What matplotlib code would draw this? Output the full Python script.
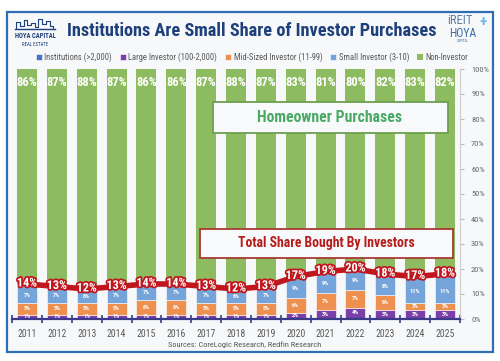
import matplotlib
matplotlib.use("Agg")
import matplotlib.pyplot as plt
import matplotlib.patheffects as pe
from matplotlib import font_manager
from matplotlib.patches import Rectangle
from matplotlib.lines import Line2D
import numpy as np

years = [str(y) for y in range(2011, 2026)]
institutions = [0.5] * 15
large = [1, 1, 1, 1, 1, 1, 1, 1, 1, 2, 3, 4, 3, 3, 3]
mid_sized = [5, 5, 5, 5, 6, 6, 5, 5, 5, 6, 7, 7, 6, 3, 3]
small = [7, 7, 6, 7, 7, 7, 7, 6, 7, 9, 9, 9, 8, 11, 11]
total_investor = [14, 13, 12, 13, 14, 14, 13, 12, 13, 17, 19, 20, 18, 17, 18]
non_investor = [86, 87, 88, 87, 86, 86, 87, 88, 87, 83, 81, 80, 82, 83, 82]
yticks = list(range(0, 101, 10))

C_INST = "#4472c4"
C_LARGE = "#7a3fa8"
C_MID = "#ee904f"
C_SMALL = "#74a4d9"
C_GREEN = "#8dbb5f"
C_RED = "#c0161d"
NAVY = "#1d3f7a"
GREY = "#5a5a5a"

available = {f.name for f in font_manager.fontManager.ttflist}
COND = next((f for f in ["Liberation Sans Narrow", "Roboto Condensed", "Open Sans Condensed", "Lato"]
             if f in available), "DejaVu Sans")
plt.rcParams["font.family"] = [COND, "DejaVu Sans"]

W, H = 500, 361
fig = plt.figure(figsize=(W / 100, H / 100), dpi=100)
fig.patch.set_facecolor("white")


def px(x, y):
    return x / W, 1 - y / H


def fit(t, width_px):
    r = fig.canvas.get_renderer()
    w = t.get_window_extent(r).width
    t.set_fontsize(t.get_fontsize() * width_px / w)


# frame
x0, y0 = px(7, 352)
fig.add_artist(Rectangle((x0, y0), 486 / W, 340 / H, transform=fig.transFigure,
                         facecolor="#f7f8fa", edgecolor="#2f6db5", linewidth=1.6, zorder=0))

ax = fig.add_axes([12.07 / W, 42 / H, 447.9 / W, 250 / H])
ax.set_facecolor("none")
x = np.arange(len(years))
bw = 0.67

b0 = np.array(institutions, dtype=float)
b1 = b0 + np.array(large)
b2 = b1 + np.array(mid_sized)
kw = dict(width=bw, edgecolor="white", linewidth=0.4)
h_inst = ax.bar(x, institutions, color=C_INST, **kw)
h_large = ax.bar(x, large, bottom=b0, color=C_LARGE, **kw)
h_mid = ax.bar(x, mid_sized, bottom=b1, color=C_MID, **kw)
h_small = ax.bar(x, small, bottom=b2, color=C_SMALL, **kw)
h_green = ax.bar(x, non_investor, bottom=total_investor, color=C_GREEN, width=bw, linewidth=0)

for i in range(len(years)):
    for val, bot, frac in [(large[i], b0[i], 0.5), (mid_sized[i], b1[i], 0.5), (small[i], b2[i], 0.42)]:
        ax.text(x[i], bot + val * frac, f"{val}%", ha="center", va="center", color="white",
                fontsize=4.5, fontweight="bold", zorder=5)
    ax.text(x[i], 94.4, f"{non_investor[i]}%", ha="center", va="center", color="white",
            fontsize=9, fontweight="bold", zorder=5)

ax.plot(x, total_investor, color=C_RED, linewidth=4, zorder=6, solid_capstyle="butt")
for i in range(len(years)):
    ax.text(x[i], total_investor[i] + 0.4, f"{total_investor[i]}%", ha="center", va="center",
            color="white", fontsize=8.8, fontweight="bold", zorder=7,
            path_effects=[pe.withStroke(linewidth=2.5, foreground=C_RED)])

ax.set_xlim(-0.5, len(years) - 0.5)
ax.set_ylim(0, 100)
ax.set_xticks(x)
ax.set_xticklabels(years, fontsize=7, color=GREY)
ax.set_xticks(np.arange(-0.5, len(years)), minor=True)
ax.tick_params(axis="x", which="major", length=0, pad=7)
ax.tick_params(axis="x", which="minor", length=6, direction="inout", color="#3a3a8a", width=1.2)
ax.yaxis.tick_right()
ax.set_yticks(yticks)
ax.set_yticklabels([f"{v}%" for v in yticks], fontsize=6, color="#666666")
ax.tick_params(axis="y", length=3, color="#bbbbbb", pad=5)
for s in ["left", "top"]:
    ax.spines[s].set_visible(False)
ax.spines["right"].set_color("#cccccc")
ax.spines["right"].set_linewidth(0.8)
ax.spines["bottom"].set_color("#3a3a8a")
ax.spines["bottom"].set_linewidth(1.6)
ax.spines["bottom"].set_zorder(8)

# annotation boxes
bx, by = px(213, 133)
fig.add_artist(Rectangle((bx, by), 235 / W, 31 / H, transform=fig.transFigure,
                         facecolor="#f8f9fa", edgecolor="#6d9f4f", linewidth=1.3, zorder=10))
t = fig.text(*px(330, 118), "Homeowner Purchases", ha="center", va="center", fontsize=12,
             fontweight="bold", color="#49aa66", zorder=11)
fit(t, 145)

bx, by = px(200, 258)
fig.add_artist(Rectangle((bx, by), 253 / W, 29 / H, transform=fig.transFigure,
                         facecolor="#f8f9fa", edgecolor="#a83a32", linewidth=1.3, zorder=10))
t = fig.text(*px(326, 243), "Total Share Bought By Investors", ha="center", va="center",
             fontsize=12, fontweight="bold", color="#b51d1d", zorder=11)
fit(t, 178)

# title and legend
t = fig.text(*px(252, 31), "Institutions Are Small Share of Investor Purchases", ha="center",
             va="center", fontsize=15, fontweight="bold", color=NAVY)
fit(t, 369)

leg = fig.legend([h_inst, h_large, h_mid, h_small, h_green],
                 ["Institutions (>2,000)", "Large Investor (100-2,000)", "Mid-Sized Investor (11-99)",
                  "Small Investor (3-10)", "Non-Investor"],
                 loc="center", bbox_to_anchor=px(252, 57), ncol=5, frameon=False, fontsize=6.2,
                 handlelength=0.7, handleheight=0.7, handletextpad=0.3, columnspacing=0.9,
                 borderpad=0)
for txt in leg.get_texts():
    txt.set_color(GREY)

fig.text(*px(245, 345), "Sources: CoreLogic Research, Redfin Research", ha="center", va="center",
         fontsize=6, color=GREY)

# logos
sx = [16, 16, 20, 20, 24, 24, 27, 27, 31, 31, 35, 35, 38, 38, 42, 42, 46, 46, 50, 50, 53, 53]
sy = [28, 22, 22, 26, 26, 20, 20, 25, 25, 23, 23, 27, 27, 19, 19, 24, 24, 21, 21, 26, 26, 28]
fig.add_artist(Line2D([v / W for v in sx], [1 - v / H for v in sy], transform=fig.transFigure,
                      color=NAVY, linewidth=0.8))
fig.add_artist(Line2D([15 / W, 55 / W], [1 - 28.5 / H, 1 - 28.5 / H], transform=fig.transFigure,
                      color=NAVY, linewidth=1.0))
t = fig.text(*px(35, 36), "HOYA CAPITAL", ha="center", va="center", fontsize=7,
             fontweight="bold", color=NAVY)
fit(t, 41)
fig.text(*px(35, 45), "REAL ESTATE", ha="center", va="center", fontsize=3.5, color=NAVY)

fig.text(*px(460, 21), "iREIT", ha="center", va="center", fontsize=9, color="#5b7ea6")
fig.text(*px(483, 22), "+", ha="center", va="center", fontsize=11, fontweight="bold", color="#6cb8e6")
fig.text(*px(463, 33.5), "HOYA", ha="center", va="center", fontsize=8.5, color="#3a6ea5")
fig.text(*px(463, 41), "CAPITAL", ha="center", va="center", fontsize=2.5, color="#3a6ea5")

fig.savefig("out.png", dpi=100, facecolor=fig.get_facecolor())
